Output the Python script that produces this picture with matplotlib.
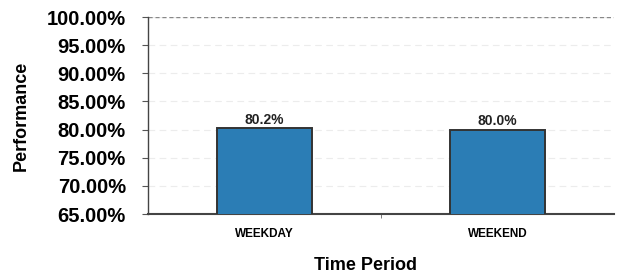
import numpy as np
import matplotlib.pyplot as plt
from matplotlib.ticker import FuncFormatter

categories = ['WEEKDAY', 'WEEKEND']
performance = [80.2, 80.0]
yticks = [65, 70, 75, 80, 85, 90, 95, 100]

plt.rcParams['font.family'] = ['Liberation Sans', 'DejaVu Sans']

fig = plt.figure(figsize=(6.17, 2.77), dpi=100)
ax = fig.add_axes([148/617, 1 - 214/277, 466/617, 197/277])

x = np.arange(len(categories))
bars = ax.bar(x, performance, width=0.41, color='#2b7db5', edgecolor='#333333', linewidth=1.4, zorder=3)

for xi, v in zip(x, performance):
    ax.text(xi, v + 0.3, f'{v:.1f}%', ha='center', va='bottom', fontsize=10, fontweight='bold', color='#222222')

ax.set_ylim(65, 100)
ax.set_xlim(-0.5, 1.5)
ax.set_yticks(yticks)
ax.yaxis.set_major_formatter(FuncFormatter(lambda v, p: f'{v:.2f}%'))
ax.set_xticks(x)
ax.set_xticklabels(categories, fontsize=8.5, fontweight='bold')
ax.set_xticks([0.5], minor=True)
ax.tick_params(axis='y', labelsize=14.5, length=4, width=0.8, color='#555555', pad=12)
for lbl in ax.get_yticklabels():
    lbl.set_fontweight('bold')
ax.tick_params(axis='x', length=0, pad=10)
ax.tick_params(axis='x', which='minor', length=3, color='#666666')

ax.grid(axis='y', color='#ececec', linestyle=(0, (6, 4)), linewidth=0.8, zorder=0)
ax.axhline(100, color='#888888', linestyle=(0, (3, 2)), linewidth=1.0, zorder=2)

ax.spines['top'].set_visible(False)
ax.spines['right'].set_visible(False)
ax.spines['left'].set_color('#444444')
ax.spines['bottom'].set_color('#444444')
ax.spines['left'].set_linewidth(1.0)
ax.spines['bottom'].set_linewidth(1.5)

ax.set_ylabel('Performance', fontsize=13, fontweight='bold', labelpad=12)
ax.set_xlabel('Time Period', fontsize=13, fontweight='bold', va='center')
ax.xaxis.set_label_coords(0.466, -0.259)

plt.savefig('out.png', dpi=100)
